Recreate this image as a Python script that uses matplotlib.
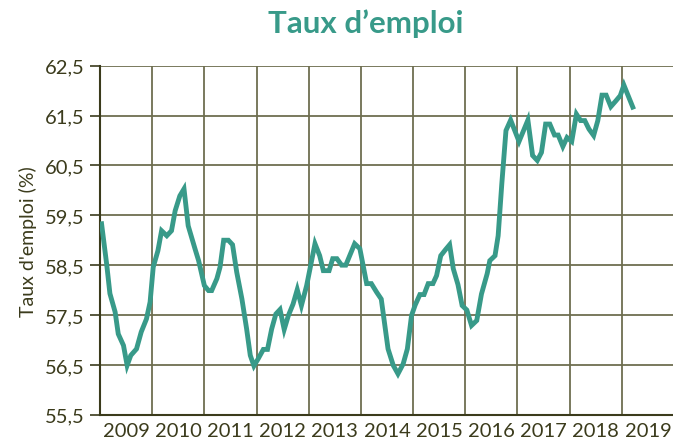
import matplotlib.pyplot as plt
import numpy as np

# dates (decimal years) and employment rate values
dates = [2009.03, 2009.13, 2009.19, 2009.29, 2009.35, 2009.45, 2009.52, 2009.59, 2009.70,
         2009.79, 2009.89, 2009.96, 2010.02, 2010.11, 2010.18, 2010.28, 2010.37, 2010.44,
         2010.53, 2010.61, 2010.69, 2010.82, 2010.89, 2011.00, 2011.08, 2011.14, 2011.24,
         2011.30, 2011.37, 2011.46, 2011.54, 2011.62, 2011.72, 2011.81, 2011.88, 2011.95,
         2012.03, 2012.13, 2012.21, 2012.29, 2012.37, 2012.45, 2012.53, 2012.61, 2012.70,
         2012.78, 2012.86, 2012.96, 2013.12, 2013.21, 2013.28, 2013.39, 2013.46, 2013.54,
         2013.63, 2013.71, 2013.88, 2013.98, 2014.11, 2014.20, 2014.30, 2014.39, 2014.52,
         2014.62, 2014.71, 2014.81, 2014.89, 2014.97, 2015.04, 2015.13, 2015.21, 2015.29,
         2015.38, 2015.45, 2015.53, 2015.62, 2015.70, 2015.77, 2015.86, 2015.94, 2016.03,
         2016.12, 2016.22, 2016.31, 2016.42, 2016.47, 2016.57, 2016.63, 2016.70, 2016.78,
         2016.87, 2017.03, 2017.20, 2017.29, 2017.38, 2017.46, 2017.54, 2017.62, 2017.71,
         2017.78, 2017.87, 2017.95, 2018.04, 2018.13, 2018.21, 2018.29, 2018.37, 2018.46,
         2018.54, 2018.62, 2018.70, 2018.79, 2018.89, 2018.97, 2019.04, 2019.21]
values = [59.33, 58.50, 57.93, 57.56, 57.12, 56.89, 56.49, 56.69, 56.82,
          57.16, 57.42, 57.76, 58.46, 58.79, 59.19, 59.09, 59.19, 59.59,
          59.89, 60.03, 59.29, 58.83, 58.59, 58.09, 57.99, 57.99, 58.23,
          58.46, 59.00, 59.00, 58.91, 58.36, 57.82, 57.22, 56.69, 56.48,
          56.62, 56.81, 56.81, 57.22, 57.52, 57.61, 57.21, 57.49, 57.72,
          58.01, 57.69, 58.09, 58.93, 58.69, 58.39, 58.39, 58.63, 58.63,
          58.50, 58.50, 58.93, 58.83, 58.13, 58.13, 57.96, 57.82, 56.82,
          56.49, 56.32, 56.52, 56.82, 57.49, 57.70, 57.91, 57.91, 58.13,
          58.13, 58.29, 58.69, 58.81, 58.91, 58.43, 58.11, 57.69, 57.60,
          57.29, 57.39, 57.92, 58.33, 58.59, 58.69, 59.09, 60.13, 61.20,
          61.41, 60.98, 61.41, 60.70, 60.60, 60.76, 61.33, 61.33, 61.11,
          61.11, 60.88, 61.06, 60.98, 61.53, 61.40, 61.40, 61.23, 61.10,
          61.40, 61.91, 61.91, 61.68, 61.80, 61.90, 62.11, 61.67]
years = list(range(2009, 2020))
yticks = [55.5, 56.5, 57.5, 58.5, 59.5, 60.5, 61.5, 62.5]

teal = "#389a89"
dark = "#3b3b1c"
grid = "#6e6e50"

plt.rcParams['font.family'] = ['Lato', 'DejaVu Sans']

fig = plt.figure(figsize=(6.73, 4.39), dpi=100)
ax = fig.add_axes([100 / 673, 0.053, 574 / 673, 0.795])

ax.plot(dates, values, color=teal, linewidth=3.5, solid_joinstyle="miter", zorder=3)

ax.set_xlim(2009, 2020)
ax.set_ylim(55.5, 62.5)

ax.set_yticks(yticks)
ax.set_yticklabels([str(v).replace(".", ",") for v in yticks])
ax.set_xticks(years + [2020])
ax.set_xticklabels([])
ax.set_xticks([y + 0.5 for y in years], minor=True)
ax.set_xticklabels([str(y) for y in years], minor=True)

ax.tick_params(axis="y", length=7, width=1.2, color=dark, labelsize=14.5, labelcolor=dark, pad=4)
ax.tick_params(axis="x", which="both", length=0, labelsize=14.5, labelcolor=dark, pad=5)

ax.grid(True, which="major", color=grid, linewidth=1.3)
for s in ["top", "right"]:
    ax.spines[s].set_visible(False)
for s in ["left", "bottom"]:
    ax.spines[s].set_color(dark)
    ax.spines[s].set_linewidth(1.5)

ax.set_ylabel("Taux d'emploi (%)", fontsize=14, color=dark, labelpad=6)

fig.text(366 / 673, 1 - 24 / 439, "Taux d\u2019emploi", ha="center", va="center",
         fontsize=22.5, fontweight="bold", color=teal)

fig.savefig("out.png", dpi=100)
